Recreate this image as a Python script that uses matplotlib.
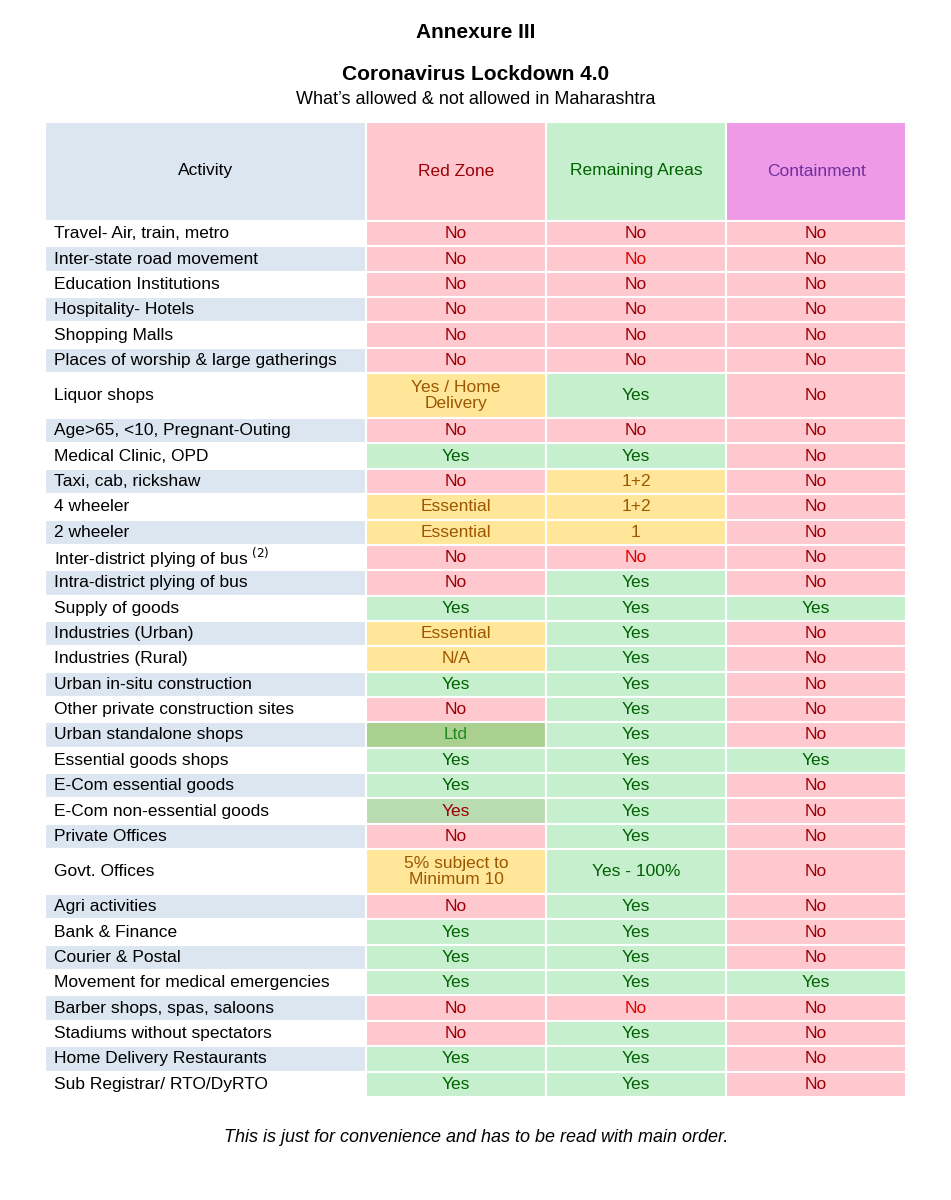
import matplotlib
matplotlib.use("Agg")
import matplotlib.pyplot as plt
from matplotlib.patches import Rectangle

activities = ["Travel- Air, train, metro","Inter-state road movement","Education Institutions","Hospitality- Hotels",
"Shopping Malls","Places of worship & large gatherings","Liquor shops","Age>65, <10, Pregnant-Outing",
"Medical Clinic, OPD","Taxi, cab, rickshaw","4 wheeler","2 wheeler","Inter-district plying of bus$^{\\ (2)}$",
"Intra-district plying of bus","Supply of goods","Industries (Urban)","Industries (Rural)","Urban in-situ construction",
"Other private construction sites","Urban standalone shops","Essential goods shops","E-Com essential goods",
"E-Com non-essential goods","Private Offices","Govt. Offices","Agri activities","Bank & Finance","Courier & Postal",
"Movement for medical emergencies","Barber shops, spas, saloons","Stadiums without spectators",
"Home Delivery Restaurants","Sub Registrar/ RTO/DyRTO"]
red_zone = ["No","No","No","No","No","No","Yes / Home\nDelivery","No","Yes","No","Essential","Essential","No","No","Yes",
"Essential","N/A","Yes","No","Ltd","Yes","Yes","Yes","No","5% subject to\nMinimum 10","No","Yes","Yes","Yes","No","No","Yes","Yes"]
remaining = ["No","No","No","No","No","No","Yes","No","Yes","1+2","1+2","1","No","Yes","Yes","Yes","Yes","Yes","Yes","Yes",
"Yes","Yes","Yes","Yes","Yes - 100%","Yes","Yes","Yes","Yes","No","Yes","Yes","Yes"]
containment = ["No"]*14 + ["Yes"] + ["No"]*5 + ["Yes"] + ["No"]*7 + ["Yes"] + ["No"]*4
headers = ["Activity","Red Zone","Remaining Areas","Containment"]

fig = plt.figure(figsize=(9.51,12.0), dpi=100)
ax = fig.add_axes([0,0,1,1]); ax.set_xlim(0,951); ax.set_ylim(1200,0); ax.axis("off")
F = "Liberation Sans"
ax.text(476,32,"Annexure III",ha="center",va="center",fontsize=15,fontweight="bold",family=F)
ax.text(476,74,"Coronavirus Lockdown 4.0",ha="center",va="center",fontsize=15,fontweight="bold",family=F)
ax.text(476,100,"What\u2019s allowed & not allowed in Maharashtra",ha="center",va="center",fontsize=13,family=F)
ax.text(476,1137,"This is just for convenience and has to be read with main order.",ha="center",va="center",fontsize=13,style="italic",family=F)

cx = [45,366,546,726,906]
def cell(x0,x1,y0,y1,fc):
    ax.add_patch(Rectangle((x0,y0),x1-x0,y1-y0,facecolor=fc,edgecolor="white",lw=1.5))
hc = ["#dce6f1","#ffc7ce","#c6efce","#ee9ae6"]; htc = ["#000000","#9c0006","#006100","#7030a0"]
for i in range(4):
    cell(cx[i],cx[i+1],122,221,hc[i])
    ax.text((cx[i]+cx[i+1])/2,171,headers[i],ha="center",va="center",fontsize=12.5,color=htc[i],family=F)

def style(v):
    if v=="No": return "#ffc7ce","#9c0006"
    if v.startswith("Yes") and "Home" not in v: return "#c6efce","#006100"
    if v=="Ltd": return "#a9d08e","#1e8c1e"
    return "#ffe699","#9c5700"
y = 221
for r,a in enumerate(activities):
    h = 45 if "\n" in red_zone[r] else 25.35
    cell(cx[0],cx[1],y,y+h,"white" if r%2==0 else "#dce6f1")
    ax.text(54,y+h/2,a,ha="left",va="center",fontsize=12.5,family=F)
    for j,v in enumerate([red_zone[r],remaining[r],containment[r]]):
        fc,tc = style(v)
        if j==0 and activities[r]=="E-Com non-essential goods": fc,tc = "#b9dbb0","#9c0006"
        if j==1 and v=="No" and r in (1,12,29): tc="#e00000"
        cell(cx[j+1],cx[j+2],y,y+h,fc)
        ax.text((cx[j+1]+cx[j+2])/2,y+h/2,v,ha="center",va="center",fontsize=12.5,color=tc,family=F,linespacing=1.05)
    y += h
fig.savefig("out.png",dpi=100)
